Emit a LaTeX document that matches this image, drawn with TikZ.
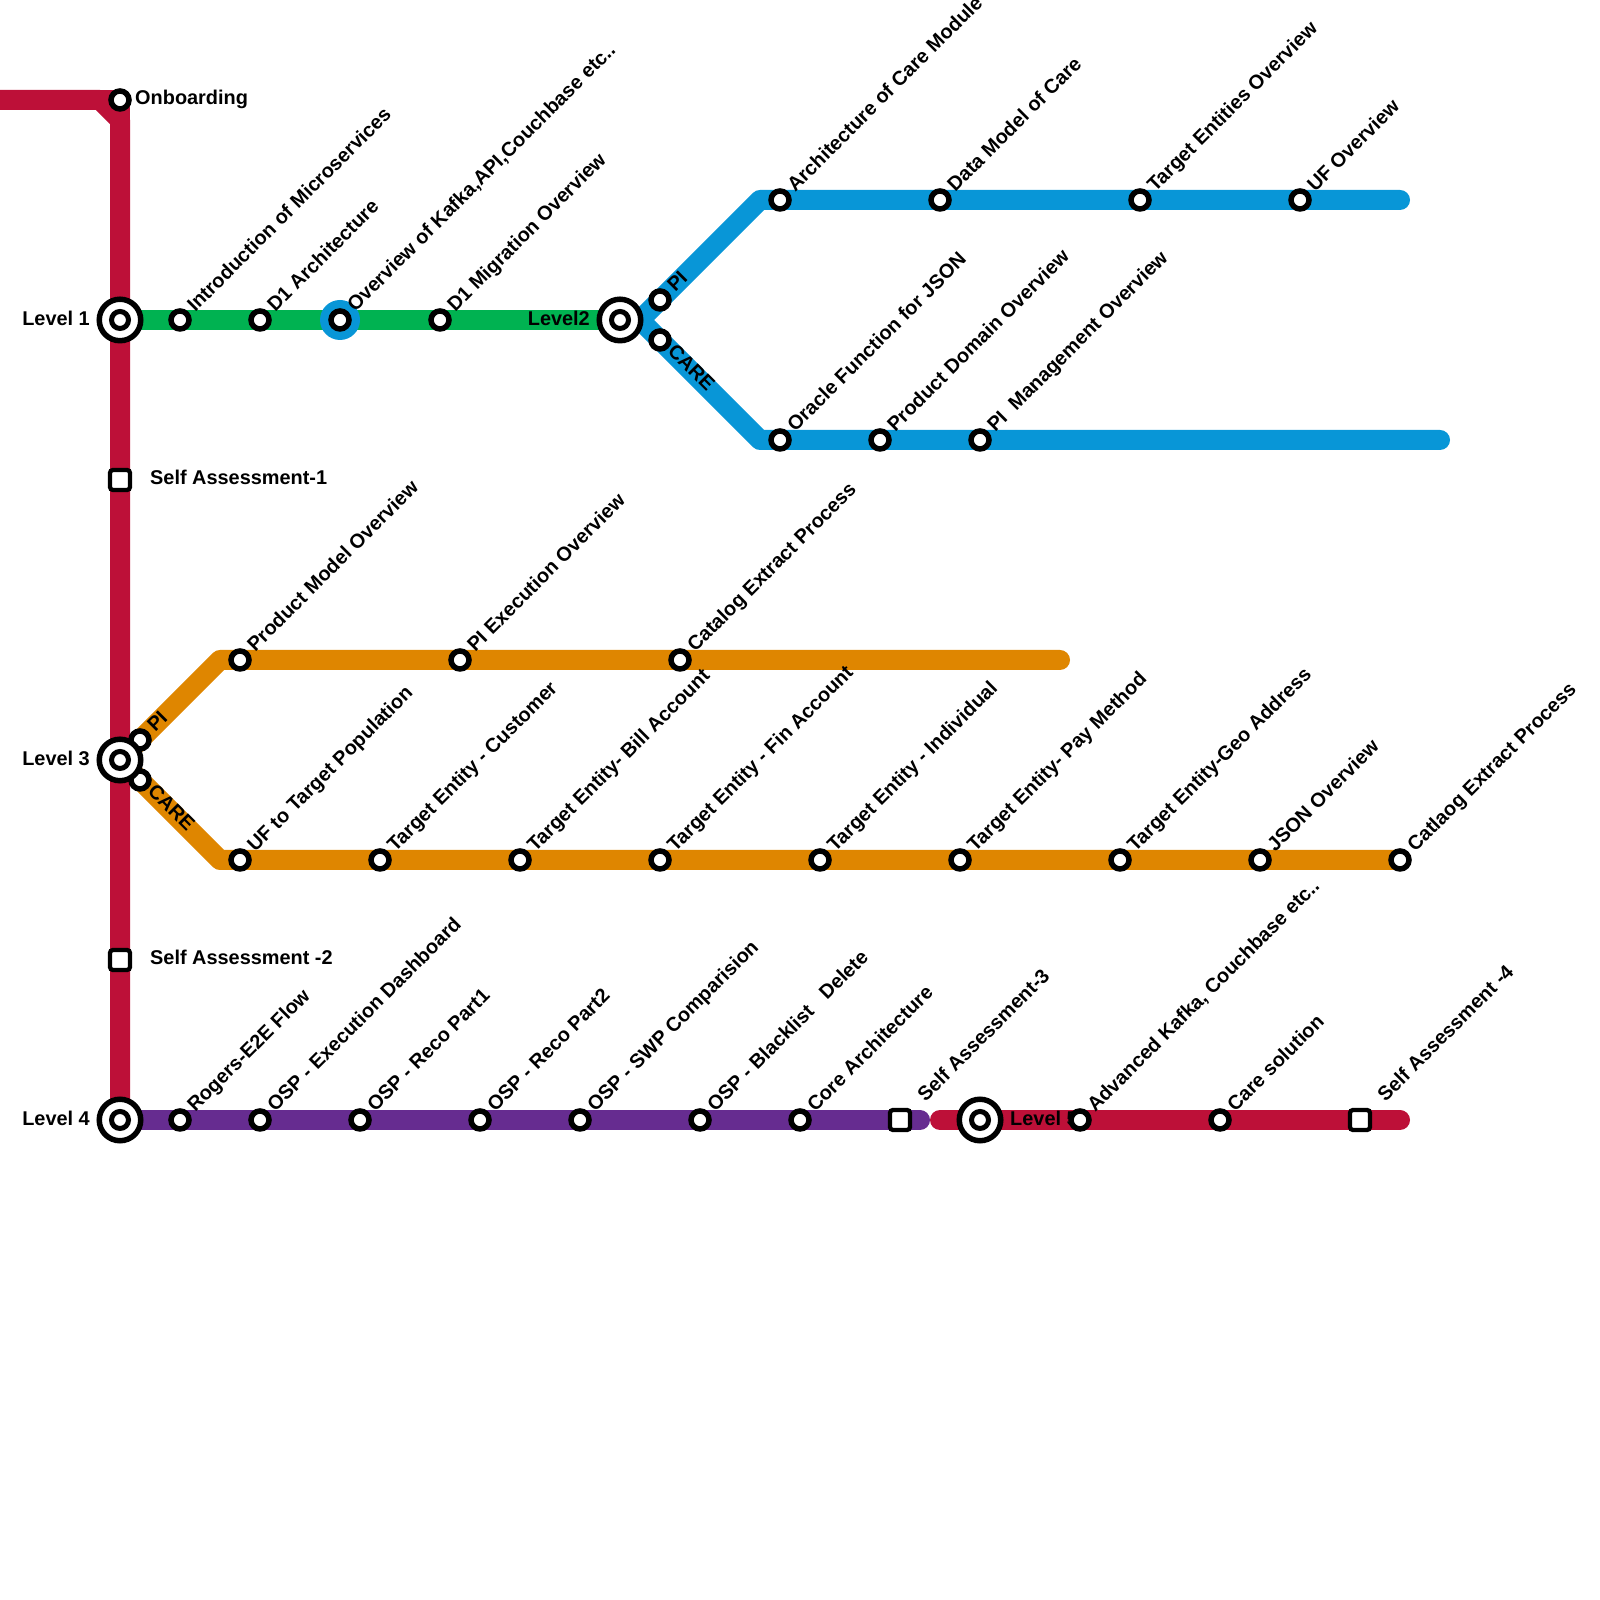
\documentclass[tikz,border=0pt]{standalone}
\usepackage{fontspec}
\setmainfont{Liberation Sans}
\usepackage{tkz-euclide}
\definecolor{RedClr}{HTML}{BD1038}
\definecolor{GreenClr}{HTML}{00B251}
\definecolor{BlueClr}{HTML}{0896D7}
\definecolor{OrangeClr}{HTML}{DF8600}
\definecolor{PurpleClr}{HTML}{662C90}
\tikzset{
  lineseg/.style={line width=20pt,line join=round},
  stnlbl/.style={rotate=45,anchor=base west,inner sep=0pt,font=\bfseries\fontsize{19.9}{22}\selectfont,xshift=15.7pt,yshift=-5.7pt},
  carelbl/.style={rotate=-45,anchor=base west,inner sep=0pt,font=\bfseries\fontsize{19.9}{22}\selectfont,xshift=13.4pt,yshift=-4pt},
  txtlbl/.style={inner sep=0pt,font=\bfseries\fontsize{19.9}{22}\selectfont},
}
\begin{document}
\begin{tikzpicture}[x=20pt,y=20pt]
\useasboundingbox (0,0) rectangle (80,80);

\tkzDefPoints{0/75/RA,5/75/RB,6/74/RC}
\tkzDefPoints{6/75/Onb,6/64/Lone,6/42/Lthree,6/24/Lfour,31/64/Ltwo,49/24/Lfive}
\tkzDefPoints{6/56/SelfA,6/32/SelfB,45/24/SelfC,68/24/SelfD}
\tkzDefPoints{9/64/Intro,13/64/Done,17/64/Kafka,18/64/KafkaE,22/64/Dmig}
\tkzDefPoints{32/64/BS,38/70/BU,38/58/BL,70/70/BUe,72/58/BLe,33/65/PIb,33/63/CAREb}
\tkzDefPoints{39/70/Arch,47/70/DataM,57/70/TgtE,65/70/UFo}
\tkzDefPoints{39/58/Orcl,44/58/ProdD,49/58/PIm}
\tkzDefPoints{7/43/PIo,7/41/CAREo,11/47/OU,11/37/OL,53/47/OUe,70/37/OLe}
\tkzDefPoints{12/47/ProdM,23/47/PIx,34/47/CatE}
\tkzDefPoints{12/37/UFt,19/37/TCu,26/37/TBi,33/37/TFi,41/37/TIn,48/37/TPa,56/37/TGe,63/37/Jso,70/37/Cat}
\tkzDefPoints{9/24/Rog,13/24/Das,18/24/RecA,24/24/RecB,29/24/Swp,35/24/Bla,40/24/Cor,46/24/PurE,47/24/RedS,70/24/RedE}
\tkzDefPoints{54/24/Adv,61/24/CareS}

\tkzDrawSegment[lineseg,color=GreenClr](Lone,Ltwo)
\tkzDrawPolySeg[lineseg,color=BlueClr,line cap=round](BUe,BU,BS,BL,BLe)
\tkzDrawSegment[lineseg,color=BlueClr,line cap=butt](Ltwo,BS)
\tkzDrawPolySeg[lineseg,color=OrangeClr,line cap=round](OUe,OU,Lthree,OL,OLe)
\tkzDrawPolySeg[lineseg,color=RedClr](RA,RB,RC,Lfour)
\tkzDrawPolySeg[lineseg,color=RedClr](RA,Onb,RC)
\tkzDrawSegment[lineseg,color=PurpleClr,line cap=round](Lfour,PurE)
\tkzDrawSegment[lineseg,color=RedClr,line cap=round](RedS,RedE)
\tkzFillCircle[fill=BlueClr](Kafka,KafkaE)

\tkzLabelPoint[txtlbl,name=OnbL,anchor=west,xshift=15pt,yshift=.5pt](Onb){Onboarding}
\tkzLabelPoint[txtlbl,name=LoneL,anchor=east,xshift=-30pt,yshift=2pt](Lone){Level 1}
\tkzLabelPoint[txtlbl,name=LtwoL,anchor=east,xshift=-30pt,yshift=2pt](Ltwo){Level2}
\tkzLabelPoint[txtlbl,name=LthreeL,anchor=east,xshift=-30pt,yshift=2pt](Lthree){Level 3}
\tkzLabelPoint[txtlbl,name=LfourL,anchor=east,xshift=-30pt,yshift=2pt](Lfour){Level 4}
\tkzLabelPoint[txtlbl,name=LfiveL,anchor=west,xshift=30pt,yshift=2pt](Lfive){Level 5}
\tkzLabelPoint[txtlbl,name=SelfAL,anchor=west,xshift=30pt,yshift=2.5pt](SelfA){Self Assessment-1}
\tkzLabelPoint[txtlbl,name=SelfBL,anchor=west,xshift=30pt,yshift=2.5pt](SelfB){Self Assessment -2}

\tkzLabelPoint[stnlbl,name=IntroL](Intro){Introduction of Microservices}
\tkzLabelPoint[stnlbl,name=DoneL](Done){D1 Architecture}
\tkzLabelPoint[stnlbl,name=KafkaL](Kafka){Overview of Kafka,API,Couchbase etc..}
\tkzLabelPoint[stnlbl,name=DmigL](Dmig){D1 Migration Overview}
\tkzLabelPoint[stnlbl,name=PIbL](PIb){PI}
\tkzLabelPoint[carelbl,name=CAREbL](CAREb){CARE}
\tkzLabelPoint[stnlbl,name=ArchL](Arch){Architecture of Care Module}
\tkzLabelPoint[stnlbl,name=DataML](DataM){Data Model of Care}
\tkzLabelPoint[stnlbl,name=TgtEL](TgtE){Target Entities Overview}
\tkzLabelPoint[stnlbl,name=UFoL](UFo){UF Overview}
\tkzLabelPoint[stnlbl,name=OrclL](Orcl){Oracle Function for JSON}
\tkzLabelPoint[stnlbl,name=ProdDL](ProdD){Product Domain Overview}
\tkzLabelPoint[stnlbl,name=PImL](PIm){PI~~Management Overview}
\tkzLabelPoint[stnlbl,name=PIoL](PIo){PI}
\tkzLabelPoint[carelbl,name=CAREoL](CAREo){CARE}
\tkzLabelPoint[stnlbl,name=ProdML](ProdM){Product Model Overview}
\tkzLabelPoint[stnlbl,name=PIxL](PIx){PI Execution Overview}
\tkzLabelPoint[stnlbl,name=CatEL](CatE){Catalog Extract Process}
\tkzLabelPoint[stnlbl,name=UFtL](UFt){UF to Target Population}
\tkzLabelPoint[stnlbl,name=TCuL](TCu){Target Entity - Customer}
\tkzLabelPoint[stnlbl,name=TBiL](TBi){Target Entity- Bill Account}
\tkzLabelPoint[stnlbl,name=TFiL](TFi){Target Entity - Fin Account}
\tkzLabelPoint[stnlbl,name=TInL](TIn){Target Entity - Individual}
\tkzLabelPoint[stnlbl,name=TPaL](TPa){Target Entity- Pay Method}
\tkzLabelPoint[stnlbl,name=TGeL](TGe){Target Entity-Geo Address}
\tkzLabelPoint[stnlbl,name=JsoL](Jso){JSON Overview}
\tkzLabelPoint[stnlbl,name=CatL](Cat){Catlaog Extract Process}
\tkzLabelPoint[stnlbl,name=RogL](Rog){Rogers-E2E Flow}
\tkzLabelPoint[stnlbl,name=DasL](Das){OSP - Execution Dashboard}
\tkzLabelPoint[stnlbl,name=RecAL](RecA){OSP - Reco Part1}
\tkzLabelPoint[stnlbl,name=RecBL](RecB){OSP - Reco Part2}
\tkzLabelPoint[stnlbl,name=SwpL](Swp){OSP - SWP Comparision}
\tkzLabelPoint[stnlbl,name=BlaL](Bla){OSP - Blacklist~~~Delete}
\tkzLabelPoint[stnlbl,name=CorL](Cor){Core Architecture}
\tkzLabelPoint[stnlbl,name=SelfCL,xshift=14.7pt](SelfC){Self Assessment-3}
\tkzLabelPoint[stnlbl,name=AdvL](Adv){Advanced Kafka, Couchbase etc..}
\tkzLabelPoint[stnlbl,name=CareSL](CareS){Care solution}
\tkzLabelPoint[stnlbl,name=SelfDL,xshift=14.7pt](SelfD){Self Assessment -4}

\tkzDrawPoints[shape=circle,size=18,line width=5.5pt,color=black,fill=white](Onb,Intro,Done,Kafka,Dmig,PIb,CAREb,Arch,DataM,TgtE,UFo,Orcl,ProdD,PIm,PIo,CAREo,ProdM,PIx,CatE,UFt,TCu,TBi,TFi,TIn,TPa,TGe,Jso,Cat,Rog,Das,RecA,RecB,Swp,Bla,Cor,Adv,CareS)
\tkzDrawPoints[shape=rectangle,rounded corners=3pt,size=20,line width=4.3pt,color=black,fill=white](SelfA,SelfB,SelfC,SelfD)
\tkzDrawPoints[shape=circle,size=41.5,line width=5.5pt,color=black,fill=white](Lone,Ltwo,Lthree,Lfour,Lfive)
\tkzDrawPoints[shape=circle,size=17,line width=5pt,color=black,fill=white](Lone,Ltwo,Lthree,Lfour,Lfive)
\end{tikzpicture}
\end{document}
